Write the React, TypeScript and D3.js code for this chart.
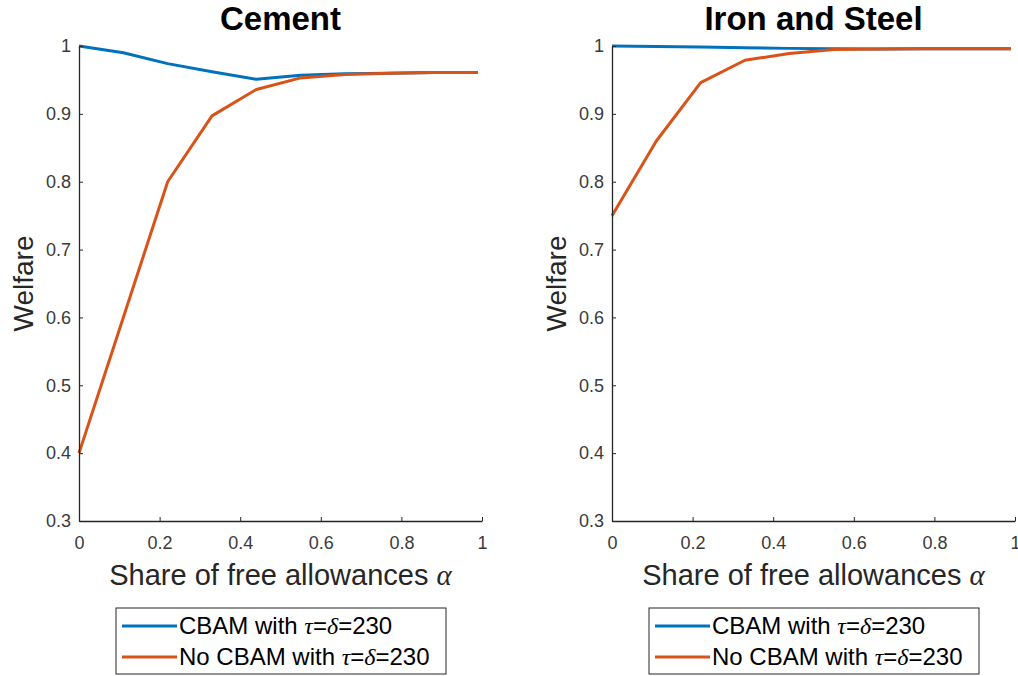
import React, { useEffect, useRef } from "react"
import { scaleLinear, line, axisBottom, axisLeft, select, format } from "d3"

/** share of free allowances */
const alphas = [0, 0.11, 0.22, 0.33, 0.44, 0.55, 0.66, 0.77, 0.88, 0.99]

/** welfare, Cement */
const cementCbam = [1.0, 0.99, 0.974, 0.962, 0.951, 0.957, 0.959, 0.96, 0.961, 0.961]
const cementNoCbam = [0.4, 0.6, 0.8, 0.897, 0.936, 0.953, 0.958, 0.96, 0.961, 0.961]

/** welfare, Iron and Steel */
const steelCbam = [1.0, 0.9993, 0.9985, 0.9975, 0.9965, 0.9958, 0.9957, 0.996, 0.996, 0.996]
const steelNoCbam = [0.75, 0.86, 0.946, 0.979, 0.989, 0.995, 0.9955, 0.996, 0.996, 0.996]

const panelTitles = ["Cement", "Iron and Steel"]
const xTicks = [0, 0.2, 0.4, 0.6, 0.8, 1]
const yTicks = [0.3, 0.4, 0.5, 0.6, 0.7, 0.8, 0.9, 1]
const seriesNames = ["CBAM with", "No CBAM with"]

const BLUE = "#0072BD"
const ORANGE = "#D95319"
const INK = "#262626"
const FONT = "'Liberation Sans', Arial, Helvetica, sans-serif"
const SERIF = "'Liberation Serif', 'DejaVu Serif', serif"

const Panel = ({ left, title, cbam, noCbam }) => {
	/** plot dimensions */
	const plotWidth = 403
	const top = 46
	const bottom = 521

	const xScale = scaleLinear().domain([0, 1]).range([0, plotWidth])
	const yScale = scaleLinear().domain([0.3, 1]).range([bottom - top, 0])

	const pathGen = line()
		.x((d, i) => xScale(alphas[i]))
		.y(d => yScale(d))

	const xAxisRef = useRef()
	const yAxisRef = useRef()
	useEffect(() => {
		const xg = select(xAxisRef.current)
		xg.call(axisBottom(xScale).tickValues(xTicks).tickFormat(format("~g")).tickSizeInner(-4).tickSizeOuter(0).tickPadding(15))
		const yg = select(yAxisRef.current)
		yg.call(axisLeft(yScale).tickValues(yTicks).tickFormat(format("~g")).tickSizeInner(-4).tickSizeOuter(0).tickPadding(8))
		;[xg, yg].forEach(g => {
			g.selectAll("path.domain").attr("stroke", INK).attr("stroke-width", 1.3)
			g.selectAll(".tick line").attr("stroke", INK).attr("stroke-width", 1)
			g.selectAll(".tick text").attr("fill", "#3a3a3a").style("font-family", FONT).style("font-size", "18px")
		})
	}, [])

	const cx = left + plotWidth / 2
	const legendLeft = left + 37
	const legendWidth = 330

	return (
		<g>
			<text x={cx} y={30} textAnchor="middle" fontFamily={FONT} fontWeight="bold" fontSize={33} fill="#000">
				{title}
			</text>
			<g transform={`translate(${left}, ${top})`}>
				<path d={pathGen(cbam)} fill="none" stroke={BLUE} strokeWidth={3} strokeLinejoin="round" />
				<path d={pathGen(noCbam)} fill="none" stroke={ORANGE} strokeWidth={3} strokeLinejoin="round" />
				<g ref={yAxisRef} />
				<g ref={xAxisRef} transform={`translate(0, ${bottom - top})`} />
			</g>
			<text
				transform={`translate(${left - 46}, ${(top + bottom) / 2}) rotate(-90)`}
				textAnchor="middle"
				fontFamily={FONT}
				fontSize={28}
				fill={INK}
			>
				Welfare
			</text>
			<text x={cx} y={585} textAnchor="middle" fontFamily={FONT} fontSize={29} fill={INK}>
				Share of free allowances{" "}
				<tspan fontFamily={SERIF} fontStyle="italic">
					α
				</tspan>
			</text>
			<rect x={legendLeft} y={608} width={legendWidth} height={66} fill="#fff" stroke={INK} strokeWidth={1} />
			{seriesNames.map((name, i) => {
				const ly = 626 + i * 31
				return (
					<g key={name}>
						<line x1={legendLeft + 6} x2={legendLeft + 61} y1={ly} y2={ly} stroke={i === 0 ? BLUE : ORANGE} strokeWidth={3} />
						<text x={legendLeft + 63} y={ly + 8} fontFamily={FONT} fontSize={24} fill="#000">
							{name}{" "}
							<tspan fontFamily={SERIF} fontStyle="italic">τ</tspan>
							<tspan>=</tspan>
							<tspan fontFamily={SERIF} fontStyle="italic">δ</tspan>
							<tspan>=230</tspan>
						</text>
					</g>
				)
			})}
		</g>
	)
}

export default function App() {
	return (
		<svg width={1018} height={676} style={{ position: "absolute", left: 0, top: 0, background: "#fff" }}>
			<rect width={1018} height={676} fill="#fff" />
			<Panel left={79} title={panelTitles[0]} cbam={cementCbam} noCbam={cementNoCbam} />
			<Panel left={612} title={panelTitles[1]} cbam={steelCbam} noCbam={steelNoCbam} />
		</svg>
	)
}
